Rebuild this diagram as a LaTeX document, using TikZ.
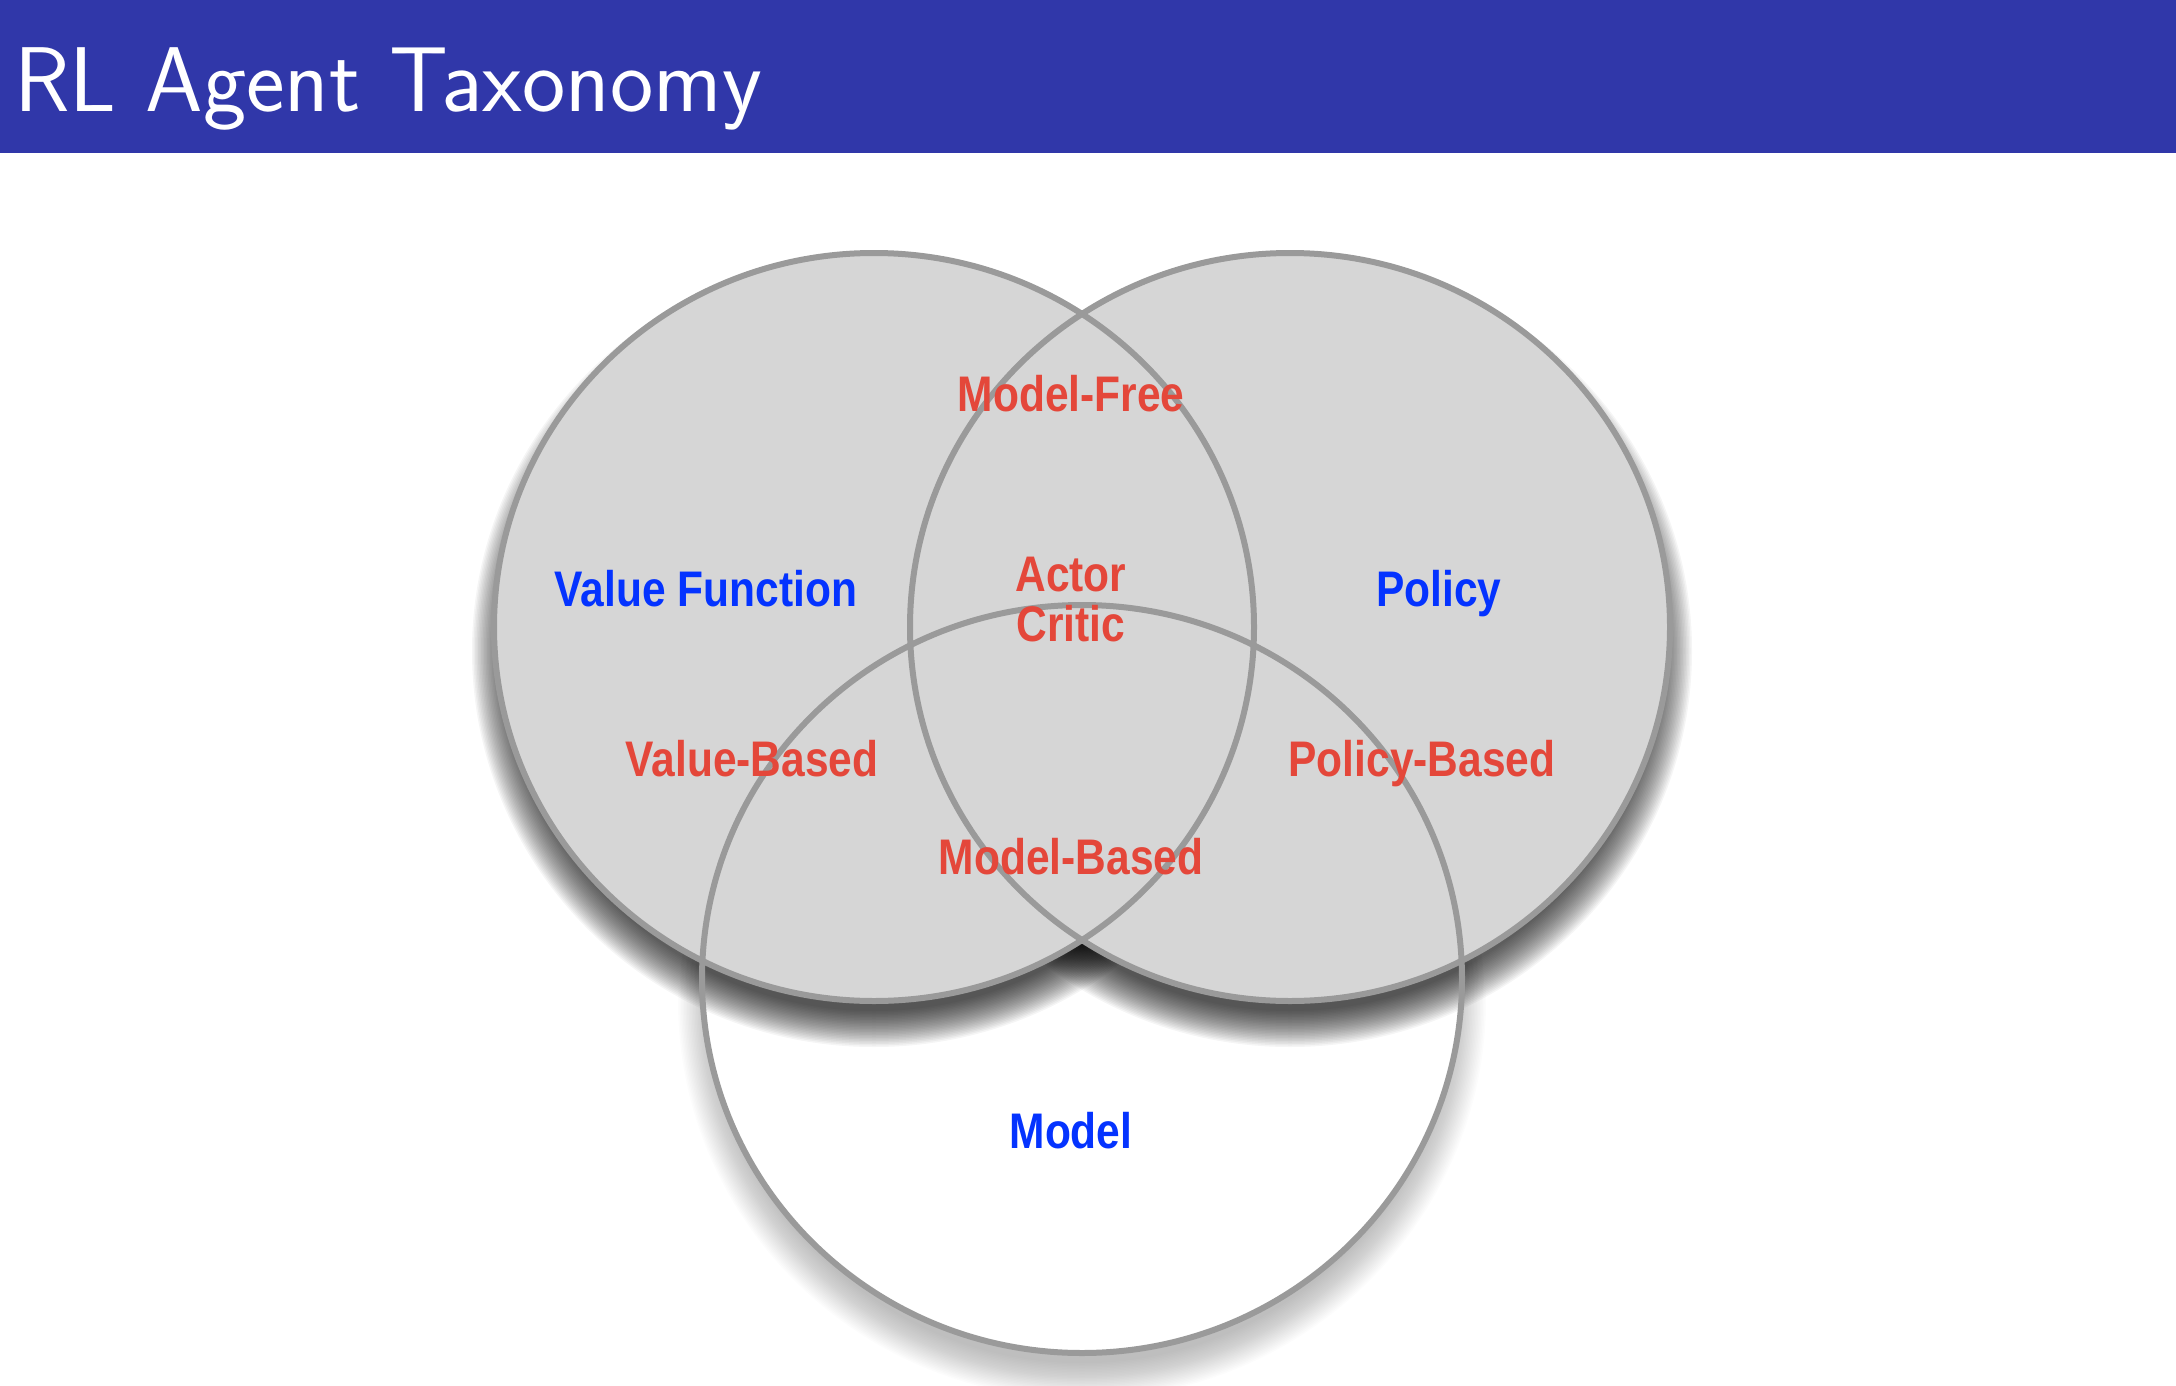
\documentclass[tikz,border=0pt]{standalone}
\usepackage{fontspec}
\newfontfamily\vennfont[FakeStretch=0.85]{Liberation Sans}
\usepackage{tikz}
\usetikzlibrary{calc}
\definecolor{barblue}{HTML}{3037A9}
\definecolor{setgray}{HTML}{D6D6D6}
\definecolor{rimgray}{HTML}{9A9A9A}
\definecolor{setblue}{HTML}{0433FF}
\definecolor{kindred}{HTML}{E4473A}
\newcommand{\vennrx}{380pt}
\newcommand{\vennry}{374pt}

\begin{document}
\begin{tikzpicture}[
  x=1pt, y=-1pt,
  rim/.style={draw=rimgray, line width=6pt},
  setlbl/.style={font=\vennfont\bfseries\fontsize{50}{50}\selectfont, text=setblue, inner sep=0pt, anchor=base},
  kindlbl/.style={setlbl, text=kindred},
  heading/.style={font=\sffamily\fontsize{92}{100}\selectfont, text=white, inner sep=0pt, anchor=base west}
]
  \useasboundingbox (0,0) rectangle (2176,1386);

  % Title bar
  \fill[barblue] (0,0) rectangle (2176,153);
  \node[heading] (title) at (14,112) {RL Agent Taxonomy};

  % Centres of the three sets
  \coordinate (cval) at (874,627);
  \coordinate (cpol) at (1290,627);
  \coordinate (cmod) at (1082,979);

  % Model set: soft shadow and white fill
  \foreach \k in {0,...,24} {
    \fill[black, opacity=0.012] ($(cmod)+(0,22)$) ellipse [x radius={(404-1.5*\k)*1pt}, y radius={(398-1.5*\k)*1pt}];
  }
  \fill[white] (cmod) ellipse [x radius=\vennrx, y radius=\vennry];

  % Value function and policy sets: darker shadows, grey fills
  \foreach \c in {cval,cpol} {
    \foreach \k in {0,...,24} {
      \fill[black, opacity=0.04] ($(\c)+(0,24)$) ellipse [x radius={(402-1.5*\k)*1pt}, y radius={(396-1.5*\k)*1pt}];
    }
  }
  \foreach \c in {cval,cpol} {
    \fill[setgray] (\c) ellipse [x radius=\vennrx, y radius=\vennry];
  }

  % Outlines
  \foreach \c in {cval,cpol,cmod} {
    \draw[rim] (\c) ellipse [x radius=\vennrx, y radius=\vennry];
  }

  % Set names
  \node[setlbl] (valfn) at (706,606) {Value Function};
  \node[setlbl] (policy) at (1439,606) {Policy};
  \node[setlbl] (model) at (1071,1148) {Model};

  % Agent kinds
  \node[kindlbl] (free) at (1071,411) {Model-Free};
  \node[kindlbl, anchor=center, align=center] (actcrit) at (1071,600) {Actor\\Critic};
  \node[kindlbl] (valbased) at (752,776) {Value-Based};
  \node[kindlbl] (polbased) at (1422,776) {Policy-Based};
  \node[kindlbl] (modbased) at (1071,874) {Model-Based};
\end{tikzpicture}
\end{document}
